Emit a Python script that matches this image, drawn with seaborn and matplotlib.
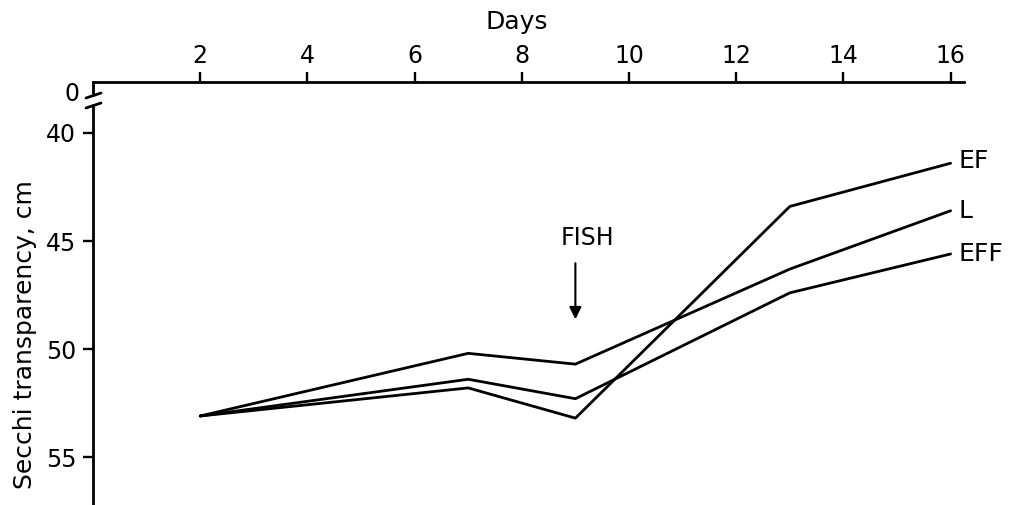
import matplotlib
matplotlib.use("Agg")
import matplotlib.pyplot as plt
import seaborn as sns
import pandas as pd

days = [2, 7, 9, 13, 16]
series_names = ["EF", "L", "EFF"]
ef = [53.1, 51.8, 53.2, 43.4, 41.4]
l_vals = [53.1, 50.2, 50.7, 46.3, 43.6]
eff = [53.1, 51.4, 52.3, 47.4, 45.6]
yticks = [40, 45, 50, 55]
xticks = [2, 4, 6, 8, 10, 12, 14, 16]
fish_day = 9

sns.set_theme(style="white")
plt.rcParams['font.family'] = ['DejaVu Sans']
plt.rcParams['text.color'] = 'black'
plt.rcParams['axes.labelcolor'] = 'black'
plt.rcParams['xtick.color'] = 'black'
plt.rcParams['ytick.color'] = 'black'

df = pd.DataFrame({
    "day": days * 3,
    "secchi": ef + l_vals + eff,
    "series": [s for s in series_names for _ in days],
})

W, H = 1014, 505
fig = plt.figure(figsize=(W / 100, H / 100), dpi=100)
left_px, right_px, top_px, bottom_px = 93, 964, 82, 505
ax = fig.add_axes([left_px / W, 1 - bottom_px / H,
                   (right_px - left_px) / W, (bottom_px - top_px) / H])

sns.lineplot(data=df, x="day", y="secchi", hue="series",
             palette={s: "black" for s in series_names},
             linewidth=2.0, legend=False, ax=ax, sort=False)

ax.set_xlim(0, 16.25)
ax.set_ylim(57.22, 37.64)

for s in ["right", "bottom", "left"]:
    ax.spines[s].set_visible(False)
ax.spines["top"].set_linewidth(2.0)
ax.spines["top"].set_color("black")

ax.xaxis.tick_top()
ax.set_xticks(xticks)
ax.set_xticklabels([str(v) for v in xticks])
ax.set_yticks(yticks)
ax.set_yticklabels([str(v) for v in yticks])
ax.tick_params(axis="x", direction="out", length=7, width=1.7, pad=3,
               labelsize=17, colors="black", top=True, bottom=False)
ax.tick_params(axis="y", direction="out", length=7, width=1.7, pad=5,
               labelsize=17, colors="black", left=True)
ax.set_xlabel("")
ax.set_ylabel("")

# left axis with break
ah = bottom_px - top_px
def ay(px):
    return 1 - (px - top_px) / ah
ax.plot([0, 0], [ay(95), 1], color="black", lw=2.0, transform=ax.transAxes, clip_on=False)
ax.plot([0, 0], [0, ay(105)], color="black", lw=2.0, transform=ax.transAxes, clip_on=False)
aw = right_px - left_px
def ax_(px):
    return (px - left_px) / aw
for y0 in (98, 108):
    ax.plot([ax_(86), ax_(101)], [ay(y0), ay(y0 - 5)], color="black", lw=2.0,
            transform=ax.transAxes, clip_on=False)
ax.text(ax_(80), ay(94), "0", ha="right", va="center", fontsize=17, transform=ax.transAxes)

# series labels
for name, vals, dy in zip(series_names, [ef, l_vals, eff], [-0.1, 0.0, 0.0]):
    ax.text(16.15, vals[-1] + dy, name, ha="left", va="center", fontsize=18)

# FISH annotation
ax.annotate("", xy=(fish_day, 48.75), xytext=(fish_day, 45.9),
            arrowprops=dict(arrowstyle="-|>", color="black", lw=1.5,
                            mutation_scale=18))
ax.text(fish_day + 0.22, 44.85, "FISH", ha="center", va="center", fontsize=17)

# axis titles
fig.text(517 / W, 1 - 22 / H, "Days", ha="center", va="center", fontsize=18)
fig.text(25 / W, 1 - 335 / H, "Secchi transparency, cm", ha="center", va="center",
         rotation=90, fontsize=18)

fig.savefig("out.png", dpi=100)
